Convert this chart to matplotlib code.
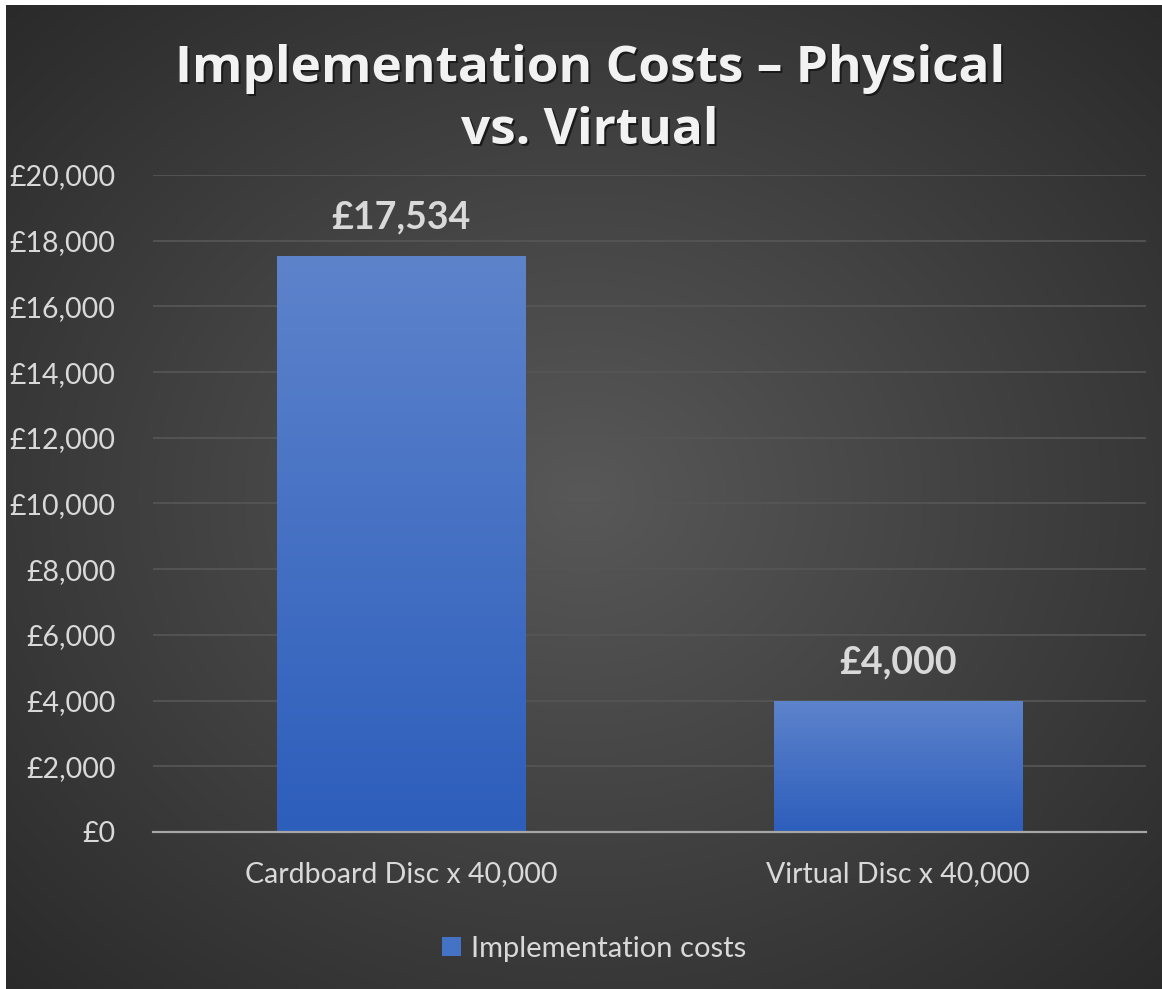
import matplotlib.pyplot as plt
import numpy as np
from matplotlib.ticker import FuncFormatter

categories = ['Cardboard Disc x 40,000', 'Virtual Disc x 40,000']
costs = [17534, 4000]
series_name = 'Implementation costs'
title = 'Implementation Costs \u2013 Physical\nvs. Virtual'

W, H = 1162, 989
fig = plt.figure(figsize=(W / 100, H / 100), dpi=100)
fig.patch.set_facecolor('white')

# dark radial background (starts a few pixels in from the top-left)
bg = fig.add_axes([6 / W, 0, 1 - 6 / W, 1 - 5 / H], zorder=-10)
yy, xx = np.mgrid[0:1:400j, 0:1:400j]
r = np.sqrt(((xx - 0.5) / 0.75) ** 2 + ((yy - 0.5) / 0.75) ** 2)
shade = np.clip(0.345 - 0.19 * r, 0.16, 0.35)
bg.imshow(np.dstack([shade] * 3), extent=[0, 1, 0, 1], aspect='auto', origin='lower')
bg.axis('off')

# plot area in pixels: x 153..1146, y 175..832
ax = fig.add_axes([153 / W, 1 - 832 / H, (1146 - 153) / W, (832 - 175) / H])
ax.set_facecolor('none')
x = np.arange(len(categories))
bars = ax.bar(x, costs, width=0.5, color='#4472c4', zorder=3)

# vertical gradient on each bar
grad = np.linspace(0, 1, 256).reshape(-1, 1)
top = np.array([0x5d, 0x83, 0xcb]) / 255
bot = np.array([0x2d, 0x5e, 0xbc]) / 255
img = bot + (top - bot) * grad[..., None]
for b in bars:
    x0, w, h = b.get_x(), b.get_width(), b.get_height()
    im = ax.imshow(img, extent=[x0, x0 + w, 0, h], origin='lower', aspect='auto', zorder=4)
    im.set_clip_path(b)
    ax.text(x0 + w / 2, h + 650, '\u00a3{:,}'.format(h), ha='center', va='bottom',
            fontsize=27, fontweight='bold', color='#d9d9d9', family='Lato', zorder=5)

ax.set_xlim(-0.5, 1.5)
ax.set_ylim(0, 20000)
ax.set_yticks(np.arange(0, 20001, 2000))
ax.yaxis.set_major_formatter(FuncFormatter(lambda v, p: '\u00a3{:,.0f}'.format(v)))
ax.set_xticks(x)
ax.set_xticklabels(categories)
ax.grid(axis='y', color='#555555', linewidth=1.3, zorder=0)
for s in ['top', 'right', 'left']:
    ax.spines[s].set_visible(False)
ax.spines['bottom'].set_color('#a6a6a6')
ax.spines['bottom'].set_linewidth(1.6)
ax.spines['bottom'].set_zorder(6)
ax.tick_params(axis='both', length=0, colors='#d9d9d9', labelsize=20.5)
ax.tick_params(axis='x', pad=21)
ax.tick_params(axis='y', pad=27)
for lab in ax.get_xticklabels() + ax.get_yticklabels():
    lab.set_family('Lato')

# title with a soft shadow
for dx, dy, c in [(2 / W, -2 / H, '#1a1a1a'), (0, 0, '#f2f2f2')]:
    fig.text(590 / W + dx, 1 - 100 / H + dy, title, ha='center', va='center', fontsize=37,
             fontweight='bold', color=c, family='Open Sans', linespacing=1.3)

# legend
leg = fig.legend([bars[0]], [series_name], loc='center', bbox_to_anchor=(594 / W, 1 - 949 / H),
                 frameon=False, handlelength=0.65, handleheight=0.65, handletextpad=0.35,
                 prop={'family': 'Lato', 'size': 21})
for t in leg.get_texts():
    t.set_color('#d9d9d9')

plt.savefig('out.png', dpi=100)
